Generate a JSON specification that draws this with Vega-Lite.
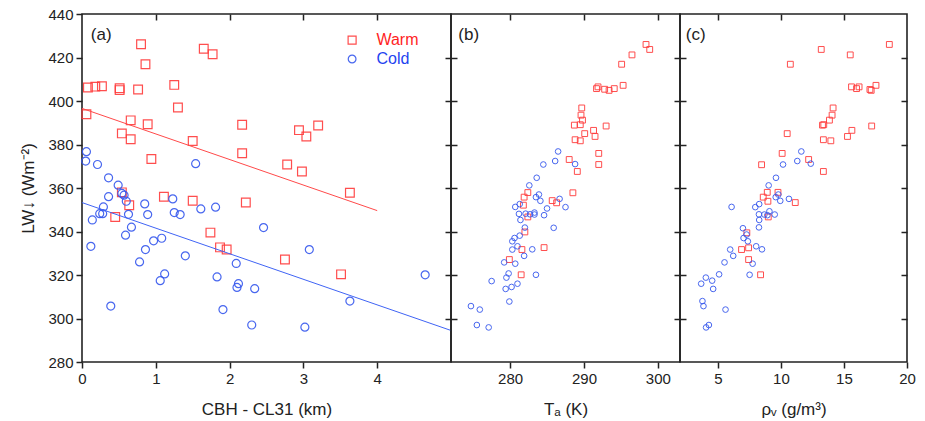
{
  "$schema": "https://vega.github.io/schema/vega-lite/v6.json",
  "padding": {"left": 19, "top": 6, "right": 5, "bottom": 5},
  "bounds": "flush",
  "spacing": 0,
  "background": "white",
  "config": {
    "view": {"stroke": "#222222", "strokeWidth": 1.6},
    "font": "Liberation Sans",
    "axis": {"domain": false, "grid": false, "labelFont": "Liberation Sans", "labelFontSize": 15, "labelColor": "#222222", "tickColor": "#222222", "tickWidth": 1.5, "titleFont": "Liberation Sans", "titleFontSize": 17, "titleFontWeight": "normal", "titleColor": "#222222", "labelFlush": false, "labelOverlap": false}
  },
  "resolve": {"scale": {"color": "independent", "shape": "independent"}},
  "datasets": {
    "a": [
      {"cbh": 0.80, "lw": 426.1, "type": "Warm"}, {"cbh": 1.65, "lw": 424.0, "type": "Warm"}, {"cbh": 1.77, "lw": 421.5, "type": "Warm"},
      {"cbh": 0.86, "lw": 416.9, "type": "Warm"}, {"cbh": 0.08, "lw": 406.2, "type": "Warm"}, {"cbh": 0.18, "lw": 406.6, "type": "Warm"},
      {"cbh": 0.27, "lw": 406.8, "type": "Warm"}, {"cbh": 0.51, "lw": 405.9, "type": "Warm"}, {"cbh": 0.51, "lw": 405.0, "type": "Warm"},
      {"cbh": 0.76, "lw": 405.3, "type": "Warm"}, {"cbh": 1.25, "lw": 407.4, "type": "Warm"}, {"cbh": 1.30, "lw": 397.0, "type": "Warm"},
      {"cbh": 0.06, "lw": 393.9, "type": "Warm"}, {"cbh": 0.66, "lw": 391.1, "type": "Warm"}, {"cbh": 0.89, "lw": 389.3, "type": "Warm"},
      {"cbh": 2.17, "lw": 389.1, "type": "Warm"}, {"cbh": 0.54, "lw": 385.1, "type": "Warm"}, {"cbh": 0.66, "lw": 382.4, "type": "Warm"},
      {"cbh": 1.50, "lw": 381.6, "type": "Warm"}, {"cbh": 2.17, "lw": 376.0, "type": "Warm"}, {"cbh": 0.94, "lw": 373.3, "type": "Warm"},
      {"cbh": 2.94, "lw": 386.6, "type": "Warm"}, {"cbh": 3.04, "lw": 383.7, "type": "Warm"}, {"cbh": 3.20, "lw": 388.7, "type": "Warm"},
      {"cbh": 2.78, "lw": 370.8, "type": "Warm"}, {"cbh": 2.98, "lw": 367.6, "type": "Warm"}, {"cbh": 3.63, "lw": 357.8, "type": "Warm"},
      {"cbh": 0.54, "lw": 358.0, "type": "Warm"}, {"cbh": 0.64, "lw": 352.1, "type": "Warm"}, {"cbh": 0.45, "lw": 346.7, "type": "Warm"},
      {"cbh": 1.11, "lw": 356.0, "type": "Warm"}, {"cbh": 1.50, "lw": 354.1, "type": "Warm"}, {"cbh": 2.22, "lw": 353.3, "type": "Warm"},
      {"cbh": 1.74, "lw": 339.5, "type": "Warm"}, {"cbh": 1.87, "lw": 332.7, "type": "Warm"}, {"cbh": 1.96, "lw": 331.7, "type": "Warm"},
      {"cbh": 2.75, "lw": 327.1, "type": "Warm"}, {"cbh": 3.51, "lw": 320.3, "type": "Warm"},
      {"cbh": 0.06, "lw": 376.7, "type": "Cold"}, {"cbh": 0.05, "lw": 372.4, "type": "Cold"}, {"cbh": 0.21, "lw": 370.8, "type": "Cold"},
      {"cbh": 1.54, "lw": 371.2, "type": "Cold"}, {"cbh": 0.36, "lw": 364.7, "type": "Cold"}, {"cbh": 0.49, "lw": 361.3, "type": "Cold"},
      {"cbh": 0.54, "lw": 357.5, "type": "Cold"}, {"cbh": 0.36, "lw": 356.0, "type": "Cold"}, {"cbh": 0.57, "lw": 356.7, "type": "Cold"},
      {"cbh": 0.60, "lw": 353.9, "type": "Cold"}, {"cbh": 0.29, "lw": 351.3, "type": "Cold"}, {"cbh": 0.24, "lw": 348.2, "type": "Cold"},
      {"cbh": 0.28, "lw": 348.2, "type": "Cold"}, {"cbh": 0.14, "lw": 345.3, "type": "Cold"}, {"cbh": 0.63, "lw": 347.9, "type": "Cold"},
      {"cbh": 0.85, "lw": 352.7, "type": "Cold"}, {"cbh": 0.89, "lw": 347.8, "type": "Cold"}, {"cbh": 1.23, "lw": 355.0, "type": "Cold"},
      {"cbh": 1.25, "lw": 348.7, "type": "Cold"}, {"cbh": 1.33, "lw": 347.8, "type": "Cold"}, {"cbh": 1.61, "lw": 350.4, "type": "Cold"},
      {"cbh": 1.81, "lw": 351.2, "type": "Cold"}, {"cbh": 0.67, "lw": 342.0, "type": "Cold"}, {"cbh": 0.59, "lw": 338.3, "type": "Cold"},
      {"cbh": 0.12, "lw": 333.2, "type": "Cold"}, {"cbh": 0.97, "lw": 335.7, "type": "Cold"}, {"cbh": 1.08, "lw": 336.9, "type": "Cold"},
      {"cbh": 0.86, "lw": 331.7, "type": "Cold"}, {"cbh": 0.78, "lw": 326.0, "type": "Cold"}, {"cbh": 1.40, "lw": 328.8, "type": "Cold"},
      {"cbh": 1.12, "lw": 320.5, "type": "Cold"}, {"cbh": 1.06, "lw": 317.4, "type": "Cold"}, {"cbh": 0.39, "lw": 305.7, "type": "Cold"},
      {"cbh": 2.09, "lw": 325.3, "type": "Cold"}, {"cbh": 1.83, "lw": 319.1, "type": "Cold"}, {"cbh": 2.12, "lw": 316.0, "type": "Cold"},
      {"cbh": 2.10, "lw": 314.3, "type": "Cold"}, {"cbh": 2.34, "lw": 313.7, "type": "Cold"}, {"cbh": 1.91, "lw": 304.1, "type": "Cold"},
      {"cbh": 2.30, "lw": 297.0, "type": "Cold"}, {"cbh": 2.46, "lw": 341.8, "type": "Cold"}, {"cbh": 3.08, "lw": 331.7, "type": "Cold"},
      {"cbh": 4.65, "lw": 320.1, "type": "Cold"}, {"cbh": 3.63, "lw": 308.0, "type": "Cold"}, {"cbh": 3.02, "lw": 296.0, "type": "Cold"}
    ],
    "fit": [
      {"cbh": 0, "lw": 396.6, "type": "Warm"}, {"cbh": 4, "lw": 349.6, "type": "Warm"},
      {"cbh": 0, "lw": 353.3, "type": "Cold"}, {"cbh": 5, "lw": 294.5, "type": "Cold"}
    ],
    "b": [
      {"ta": 298.4, "lw": 426.0, "type": "Warm"}, {"ta": 298.9, "lw": 423.7, "type": "Warm"}, {"ta": 296.5, "lw": 421.2, "type": "Warm"},
      {"ta": 295.1, "lw": 416.9, "type": "Warm"}, {"ta": 291.9, "lw": 406.5, "type": "Warm"}, {"ta": 291.7, "lw": 405.7, "type": "Warm"},
      {"ta": 292.8, "lw": 405.4, "type": "Warm"}, {"ta": 293.4, "lw": 404.9, "type": "Warm"}, {"ta": 294.1, "lw": 405.7, "type": "Warm"},
      {"ta": 295.3, "lw": 407.2, "type": "Warm"}, {"ta": 289.7, "lw": 396.8, "type": "Warm"}, {"ta": 289.6, "lw": 393.5, "type": "Warm"},
      {"ta": 289.8, "lw": 391.2, "type": "Warm"}, {"ta": 288.7, "lw": 388.9, "type": "Warm"}, {"ta": 289.5, "lw": 389.1, "type": "Warm"},
      {"ta": 293.0, "lw": 388.5, "type": "Warm"}, {"ta": 291.3, "lw": 386.5, "type": "Warm"}, {"ta": 291.5, "lw": 383.7, "type": "Warm"},
      {"ta": 290.1, "lw": 385.0, "type": "Warm"}, {"ta": 288.8, "lw": 382.2, "type": "Warm"}, {"ta": 289.5, "lw": 381.7, "type": "Warm"},
      {"ta": 292.0, "lw": 375.9, "type": "Warm"}, {"ta": 292.0, "lw": 370.8, "type": "Warm"}, {"ta": 288.0, "lw": 373.1, "type": "Warm"},
      {"ta": 289.1, "lw": 367.6, "type": "Warm"}, {"ta": 288.5, "lw": 357.8, "type": "Warm"}, {"ta": 282.4, "lw": 357.9, "type": "Warm"},
      {"ta": 281.9, "lw": 355.8, "type": "Warm"}, {"ta": 285.7, "lw": 354.2, "type": "Warm"}, {"ta": 286.3, "lw": 353.2, "type": "Warm"},
      {"ta": 281.8, "lw": 352.1, "type": "Warm"}, {"ta": 282.4, "lw": 346.7, "type": "Warm"}, {"ta": 282.0, "lw": 339.8, "type": "Warm"},
      {"ta": 281.6, "lw": 331.7, "type": "Warm"}, {"ta": 284.6, "lw": 332.6, "type": "Warm"}, {"ta": 279.9, "lw": 327.1, "type": "Warm"},
      {"ta": 281.5, "lw": 320.1, "type": "Warm"},
      {"ta": 286.5, "lw": 376.8, "type": "Cold"}, {"ta": 284.5, "lw": 370.8, "type": "Cold"}, {"ta": 286.1, "lw": 372.4, "type": "Cold"},
      {"ta": 288.8, "lw": 371.0, "type": "Cold"}, {"ta": 283.6, "lw": 364.7, "type": "Cold"}, {"ta": 282.6, "lw": 361.2, "type": "Cold"},
      {"ta": 283.9, "lw": 357.0, "type": "Cold"}, {"ta": 283.5, "lw": 355.8, "type": "Cold"}, {"ta": 284.1, "lw": 354.1, "type": "Cold"},
      {"ta": 286.7, "lw": 355.0, "type": "Cold"}, {"ta": 281.3, "lw": 352.6, "type": "Cold"}, {"ta": 280.7, "lw": 351.3, "type": "Cold"},
      {"ta": 285.0, "lw": 350.6, "type": "Cold"}, {"ta": 287.5, "lw": 351.2, "type": "Cold"}, {"ta": 281.2, "lw": 348.1, "type": "Cold"},
      {"ta": 282.1, "lw": 348.2, "type": "Cold"}, {"ta": 282.7, "lw": 347.9, "type": "Cold"}, {"ta": 283.3, "lw": 348.7, "type": "Cold"},
      {"ta": 283.3, "lw": 347.8, "type": "Cold"}, {"ta": 284.6, "lw": 347.5, "type": "Cold"}, {"ta": 281.4, "lw": 345.3, "type": "Cold"},
      {"ta": 282.0, "lw": 341.8, "type": "Cold"}, {"ta": 285.9, "lw": 341.7, "type": "Cold"}, {"ta": 281.3, "lw": 338.1, "type": "Cold"},
      {"ta": 280.6, "lw": 337.0, "type": "Cold"}, {"ta": 280.3, "lw": 335.5, "type": "Cold"}, {"ta": 281.0, "lw": 333.2, "type": "Cold"},
      {"ta": 280.3, "lw": 331.7, "type": "Cold"}, {"ta": 283.0, "lw": 331.8, "type": "Cold"}, {"ta": 281.9, "lw": 328.8, "type": "Cold"},
      {"ta": 279.2, "lw": 325.8, "type": "Cold"}, {"ta": 280.7, "lw": 325.2, "type": "Cold"}, {"ta": 279.8, "lw": 320.7, "type": "Cold"},
      {"ta": 279.5, "lw": 318.8, "type": "Cold"}, {"ta": 277.5, "lw": 317.2, "type": "Cold"}, {"ta": 281.0, "lw": 316.0, "type": "Cold"},
      {"ta": 280.2, "lw": 314.5, "type": "Cold"}, {"ta": 279.4, "lw": 313.6, "type": "Cold"}, {"ta": 283.5, "lw": 320.1, "type": "Cold"},
      {"ta": 279.9, "lw": 307.8, "type": "Cold"}, {"ta": 274.7, "lw": 305.7, "type": "Cold"}, {"ta": 275.9, "lw": 304.1, "type": "Cold"},
      {"ta": 275.5, "lw": 297.0, "type": "Cold"}, {"ta": 277.1, "lw": 295.9, "type": "Cold"}
    ],
    "c": [
      {"rho": 18.6, "lw": 426.0, "type": "Warm"}, {"rho": 13.2, "lw": 423.7, "type": "Warm"}, {"rho": 15.5, "lw": 421.2, "type": "Warm"},
      {"rho": 10.75, "lw": 416.9, "type": "Warm"}, {"rho": 15.6, "lw": 406.5, "type": "Warm"}, {"rho": 16.0, "lw": 405.7, "type": "Warm"},
      {"rho": 16.2, "lw": 406.5, "type": "Warm"}, {"rho": 17.06, "lw": 405.3, "type": "Warm"}, {"rho": 17.16, "lw": 404.9, "type": "Warm"},
      {"rho": 17.54, "lw": 407.2, "type": "Warm"}, {"rho": 14.14, "lw": 396.8, "type": "Warm"}, {"rho": 14.06, "lw": 393.5, "type": "Warm"},
      {"rho": 13.85, "lw": 391.2, "type": "Warm"}, {"rho": 13.3, "lw": 388.9, "type": "Warm"}, {"rho": 13.4, "lw": 389.1, "type": "Warm"},
      {"rho": 17.2, "lw": 388.5, "type": "Warm"}, {"rho": 15.63, "lw": 386.5, "type": "Warm"}, {"rho": 15.28, "lw": 383.7, "type": "Warm"},
      {"rho": 10.5, "lw": 385.0, "type": "Warm"}, {"rho": 13.37, "lw": 382.2, "type": "Warm"}, {"rho": 13.96, "lw": 381.7, "type": "Warm"},
      {"rho": 10.1, "lw": 375.9, "type": "Warm"}, {"rho": 8.47, "lw": 370.7, "type": "Warm"}, {"rho": 12.2, "lw": 373.1, "type": "Warm"},
      {"rho": 13.37, "lw": 367.6, "type": "Warm"}, {"rho": 11.14, "lw": 353.3, "type": "Warm"}, {"rho": 8.92, "lw": 358.0, "type": "Warm"},
      {"rho": 8.6, "lw": 355.8, "type": "Warm"}, {"rho": 9.77, "lw": 358.0, "type": "Warm"}, {"rho": 8.97, "lw": 353.9, "type": "Warm"},
      {"rho": 9.0, "lw": 346.7, "type": "Warm"}, {"rho": 7.3, "lw": 339.4, "type": "Warm"}, {"rho": 6.88, "lw": 331.7, "type": "Warm"},
      {"rho": 7.44, "lw": 332.5, "type": "Warm"}, {"rho": 7.44, "lw": 327.1, "type": "Warm"}, {"rho": 8.39, "lw": 320.1, "type": "Warm"},
      {"rho": 11.62, "lw": 376.8, "type": "Cold"}, {"rho": 10.17, "lw": 370.8, "type": "Cold"}, {"rho": 11.3, "lw": 372.4, "type": "Cold"},
      {"rho": 12.37, "lw": 371.2, "type": "Cold"}, {"rho": 9.61, "lw": 364.7, "type": "Cold"}, {"rho": 9.03, "lw": 361.2, "type": "Cold"},
      {"rho": 9.8, "lw": 357.0, "type": "Cold"}, {"rho": 9.59, "lw": 355.8, "type": "Cold"}, {"rho": 9.95, "lw": 354.1, "type": "Cold"},
      {"rho": 10.64, "lw": 355.0, "type": "Cold"}, {"rho": 8.28, "lw": 352.6, "type": "Cold"}, {"rho": 6.09, "lw": 351.3, "type": "Cold"},
      {"rho": 7.97, "lw": 351.2, "type": "Cold"}, {"rho": 8.26, "lw": 347.9, "type": "Cold"}, {"rho": 8.69, "lw": 347.8, "type": "Cold"},
      {"rho": 8.93, "lw": 347.5, "type": "Cold"}, {"rho": 9.09, "lw": 349.3, "type": "Cold"}, {"rho": 9.51, "lw": 347.8, "type": "Cold"},
      {"rho": 8.28, "lw": 345.3, "type": "Cold"}, {"rho": 8.26, "lw": 341.9, "type": "Cold"}, {"rho": 6.99, "lw": 341.5, "type": "Cold"},
      {"rho": 7.04, "lw": 337.0, "type": "Cold"}, {"rho": 7.38, "lw": 335.5, "type": "Cold"}, {"rho": 7.28, "lw": 338.6, "type": "Cold"},
      {"rho": 8.04, "lw": 333.2, "type": "Cold"}, {"rho": 8.5, "lw": 331.8, "type": "Cold"}, {"rho": 5.98, "lw": 331.7, "type": "Cold"},
      {"rho": 6.22, "lw": 328.8, "type": "Cold"}, {"rho": 5.53, "lw": 325.8, "type": "Cold"}, {"rho": 7.76, "lw": 325.2, "type": "Cold"},
      {"rho": 5.1, "lw": 320.3, "type": "Cold"}, {"rho": 7.52, "lw": 320.1, "type": "Cold"}, {"rho": 4.05, "lw": 318.8, "type": "Cold"},
      {"rho": 3.68, "lw": 316.0, "type": "Cold"}, {"rho": 4.55, "lw": 317.4, "type": "Cold"}, {"rho": 4.63, "lw": 313.6, "type": "Cold"},
      {"rho": 3.78, "lw": 308.0, "type": "Cold"}, {"rho": 3.86, "lw": 305.7, "type": "Cold"}, {"rho": 5.61, "lw": 304.1, "type": "Cold"},
      {"rho": 4.07, "lw": 295.9, "type": "Cold"}, {"rho": 4.29, "lw": 297.0, "type": "Cold"}
    ]
  },
  "hconcat": [
    {
      "width": 369, "height": 348,
      "resolve": {"scale": {"x": "independent", "y": "independent"}},
      "layer": [
        {
          "data": {"name": "a"},
          "transform": [{"filter": "datum.type === 'Warm'"}],
          "mark": {"type": "point", "filled": false, "strokeWidth": 1.2, "size": 76, "opacity": 0.9},
          "encoding": {
            "x": {"field": "cbh", "type": "quantitative", "scale": {"domain": [0, 5], "nice": false, "zero": false},
                  "axis": {"orient": "bottom", "values": [0, 1, 2, 3, 4], "tickSize": 6, "labelPadding": 3, "title": "CBH - CL31 (km)", "titlePadding": 15}},
            "y": {"field": "lw", "type": "quantitative", "scale": {"domain": [280, 440], "nice": false, "zero": false},
                  "axis": {"orient": "left", "values": [280, 300, 320, 340, 360, 380, 400, 420, 440], "tickSize": 6, "labelPadding": 3, "title": "LW↓ (Wm⁻²)", "titlePadding": 10}},
            "color": {"field": "type", "type": "nominal", "scale": {"domain": ["Warm", "Cold"], "range": ["#ff3b3b", "#3557ee"]}, "legend": null},
            "shape": {"field": "type", "type": "nominal", "scale": {"domain": ["Warm", "Cold"], "range": ["square", "circle"]}, "legend": null}
          }
        },
        {
          "data": {"name": "a"},
          "transform": [{"filter": "datum.type === 'Cold'"}],
          "mark": {"type": "point", "filled": false, "strokeWidth": 1.2, "size": 64, "opacity": 0.9},
          "encoding": {
            "x": {"field": "cbh", "type": "quantitative", "scale": {"domain": [0, 5], "nice": false, "zero": false},
                  "axis": {"orient": "top", "values": [1, 2, 3, 4], "tickSize": -6, "labels": false, "title": null}},
            "y": {"field": "lw", "type": "quantitative", "scale": {"domain": [280, 440], "nice": false, "zero": false},
                  "axis": {"orient": "right", "values": [300, 320, 340, 360, 380, 400, 420], "tickSize": -6, "labels": false, "title": null}},
            "color": {"field": "type", "type": "nominal", "scale": {"domain": ["Warm", "Cold"], "range": ["#ff3b3b", "#3557ee"]}, "legend": null},
            "shape": {"field": "type", "type": "nominal", "scale": {"domain": ["Warm", "Cold"], "range": ["square", "circle"]}, "legend": null}
          }
        },
        {
          "data": {"name": "fit"},
          "transform": [{"filter": "datum.type === 'Warm'"}],
          "mark": {"type": "line", "color": "#ff4a4a", "strokeWidth": 1, "clip": true},
          "encoding": {
            "x": {"field": "cbh", "type": "quantitative", "scale": {"domain": [0, 5], "nice": false, "zero": false}, "axis": null},
            "y": {"field": "lw", "type": "quantitative", "scale": {"domain": [280, 440], "nice": false, "zero": false}, "axis": null}
          }
        },
        {
          "data": {"name": "fit"},
          "transform": [{"filter": "datum.type === 'Cold'"}],
          "mark": {"type": "line", "color": "#4064f5", "strokeWidth": 1, "clip": true},
          "encoding": {
            "x": {"field": "cbh", "type": "quantitative", "scale": {"domain": [0, 5], "nice": false, "zero": false}, "axis": null},
            "y": {"field": "lw", "type": "quantitative", "scale": {"domain": [280, 440], "nice": false, "zero": false}, "axis": null}
          }
        },
        {
          "data": {"values": [{}]},
          "mark": {"type": "point", "shape": "square", "filled": false, "color": "#ff3b3b", "strokeWidth": 1.2, "size": 64, "opacity": 0.9},
          "encoding": {
            "x": {"datum": 3.66, "type": "quantitative", "scale": {"domain": [0, 5], "nice": false, "zero": false}, "axis": null},
            "y": {"datum": 428.0, "type": "quantitative", "scale": {"domain": [280, 440], "nice": false, "zero": false}, "axis": null}
          }
        },
        {
          "data": {"values": [{}]},
          "mark": {"type": "point", "shape": "circle", "filled": false, "color": "#3557ee", "strokeWidth": 1.2, "size": 60, "opacity": 0.9},
          "encoding": {
            "x": {"datum": 3.66, "type": "quantitative", "scale": {"domain": [0, 5], "nice": false, "zero": false}, "axis": null},
            "y": {"datum": 419.3, "type": "quantitative", "scale": {"domain": [280, 440], "nice": false, "zero": false}, "axis": null}
          }
        },
        {
          "data": {"values": [{}]},
          "mark": {"type": "text", "fontSize": 16, "font": "Liberation Sans", "color": "#ff1f1f", "align": "left", "baseline": "middle"},
          "encoding": {
            "x": {"datum": 3.99, "type": "quantitative", "scale": {"domain": [0, 5], "nice": false, "zero": false}, "axis": null},
            "y": {"datum": 428.0, "type": "quantitative", "scale": {"domain": [280, 440], "nice": false, "zero": false}, "axis": null},
            "text": {"value": "Warm"}
          }
        },
        {
          "data": {"values": [{}]},
          "mark": {"type": "text", "fontSize": 16, "font": "Liberation Sans", "color": "#1f44f0", "align": "left", "baseline": "middle"},
          "encoding": {
            "x": {"datum": 3.99, "type": "quantitative", "scale": {"domain": [0, 5], "nice": false, "zero": false}, "axis": null},
            "y": {"datum": 419.3, "type": "quantitative", "scale": {"domain": [280, 440], "nice": false, "zero": false}, "axis": null},
            "text": {"value": "Cold"}
          }
        },
        {
          "data": {"values": [{}]},
          "mark": {"type": "text", "fontSize": 17, "font": "Liberation Sans", "color": "#222222", "align": "center", "baseline": "middle"},
          "encoding": {
            "x": {"datum": 0.26, "type": "quantitative", "scale": {"domain": [0, 5], "nice": false, "zero": false}, "axis": null},
            "y": {"datum": 430.5, "type": "quantitative", "scale": {"domain": [280, 440], "nice": false, "zero": false}, "axis": null},
            "text": {"value": "(a)"}
          }
        }
      ]
    },
    {
      "width": 229, "height": 348,
      "resolve": {"scale": {"x": "independent", "y": "independent"}},
      "layer": [
        {
          "data": {"name": "b"},
          "transform": [{"filter": "datum.type === 'Warm'"}],
          "mark": {"type": "point", "filled": false, "strokeWidth": 1, "size": 34, "opacity": 0.9},
          "encoding": {
            "x": {"field": "ta", "type": "quantitative", "scale": {"domain": [272, 303], "nice": false, "zero": false},
                  "axis": {"orient": "bottom", "values": [280, 290, 300], "tickSize": 6, "labelPadding": 3, "title": "Tₐ (K)", "titlePadding": 15}},
            "y": {"field": "lw", "type": "quantitative", "scale": {"domain": [280, 440], "nice": false, "zero": false},
                  "axis": {"orient": "left", "values": [300, 320, 340, 360, 380, 400, 420], "tickSize": -6, "labels": false, "title": null}},
            "color": {"field": "type", "type": "nominal", "scale": {"domain": ["Warm", "Cold"], "range": ["#ff3b3b", "#3557ee"]}, "legend": null},
            "shape": {"field": "type", "type": "nominal", "scale": {"domain": ["Warm", "Cold"], "range": ["square", "circle"]}, "legend": null}
          }
        },
        {
          "data": {"name": "b"},
          "transform": [{"filter": "datum.type === 'Cold'"}],
          "mark": {"type": "point", "filled": false, "strokeWidth": 1, "size": 32, "opacity": 0.9},
          "encoding": {
            "x": {"field": "ta", "type": "quantitative", "scale": {"domain": [272, 303], "nice": false, "zero": false},
                  "axis": {"orient": "top", "values": [280, 290, 300], "tickSize": -6, "labels": false, "title": null}},
            "y": {"field": "lw", "type": "quantitative", "scale": {"domain": [280, 440], "nice": false, "zero": false},
                  "axis": {"orient": "right", "values": [300, 320, 340, 360, 380, 400, 420], "tickSize": -6, "labels": false, "title": null}},
            "color": {"field": "type", "type": "nominal", "scale": {"domain": ["Warm", "Cold"], "range": ["#ff3b3b", "#3557ee"]}, "legend": null},
            "shape": {"field": "type", "type": "nominal", "scale": {"domain": ["Warm", "Cold"], "range": ["square", "circle"]}, "legend": null}
          }
        },
        {
          "data": {"values": [{}]},
          "mark": {"type": "text", "fontSize": 17, "font": "Liberation Sans", "color": "#222222", "align": "center", "baseline": "middle"},
          "encoding": {
            "x": {"datum": 274.4, "type": "quantitative", "scale": {"domain": [272, 303], "nice": false, "zero": false}, "axis": null},
            "y": {"datum": 430.5, "type": "quantitative", "scale": {"domain": [280, 440], "nice": false, "zero": false}, "axis": null},
            "text": {"value": "(b)"}
          }
        }
      ]
    },
    {
      "width": 227, "height": 348,
      "resolve": {"scale": {"x": "independent", "y": "independent"}},
      "layer": [
        {
          "data": {"name": "c"},
          "transform": [{"filter": "datum.type === 'Warm'"}],
          "mark": {"type": "point", "filled": false, "strokeWidth": 1, "size": 34, "opacity": 0.9},
          "encoding": {
            "x": {"field": "rho", "type": "quantitative", "scale": {"domain": [2, 20], "nice": false, "zero": false},
                  "axis": {"orient": "bottom", "values": [5, 10, 15, 20], "tickSize": 6, "labelPadding": 3, "title": "ρᵥ (g/m³)", "titlePadding": 15}},
            "y": {"field": "lw", "type": "quantitative", "scale": {"domain": [280, 440], "nice": false, "zero": false},
                  "axis": {"orient": "left", "values": [300, 320, 340, 360, 380, 400, 420], "tickSize": -6, "labels": false, "title": null}},
            "color": {"field": "type", "type": "nominal", "scale": {"domain": ["Warm", "Cold"], "range": ["#ff3b3b", "#3557ee"]}, "legend": null},
            "shape": {"field": "type", "type": "nominal", "scale": {"domain": ["Warm", "Cold"], "range": ["square", "circle"]}, "legend": null}
          }
        },
        {
          "data": {"name": "c"},
          "transform": [{"filter": "datum.type === 'Cold'"}],
          "mark": {"type": "point", "filled": false, "strokeWidth": 1, "size": 32, "opacity": 0.9},
          "encoding": {
            "x": {"field": "rho", "type": "quantitative", "scale": {"domain": [2, 20], "nice": false, "zero": false},
                  "axis": {"orient": "top", "values": [5, 10, 15], "tickSize": -6, "labels": false, "title": null}},
            "y": {"field": "lw", "type": "quantitative", "scale": {"domain": [280, 440], "nice": false, "zero": false},
                  "axis": {"orient": "right", "values": [300, 320, 340, 360, 380, 400, 420], "tickSize": -6, "labels": false, "title": null}},
            "color": {"field": "type", "type": "nominal", "scale": {"domain": ["Warm", "Cold"], "range": ["#ff3b3b", "#3557ee"]}, "legend": null},
            "shape": {"field": "type", "type": "nominal", "scale": {"domain": ["Warm", "Cold"], "range": ["square", "circle"]}, "legend": null}
          }
        },
        {
          "data": {"values": [{}]},
          "mark": {"type": "text", "fontSize": 17, "font": "Liberation Sans", "color": "#222222", "align": "center", "baseline": "middle"},
          "encoding": {
            "x": {"datum": 3.25, "type": "quantitative", "scale": {"domain": [2, 20], "nice": false, "zero": false}, "axis": null},
            "y": {"datum": 430.5, "type": "quantitative", "scale": {"domain": [280, 440], "nice": false, "zero": false}, "axis": null},
            "text": {"value": "(c)"}
          }
        }
      ]
    }
  ]
}
